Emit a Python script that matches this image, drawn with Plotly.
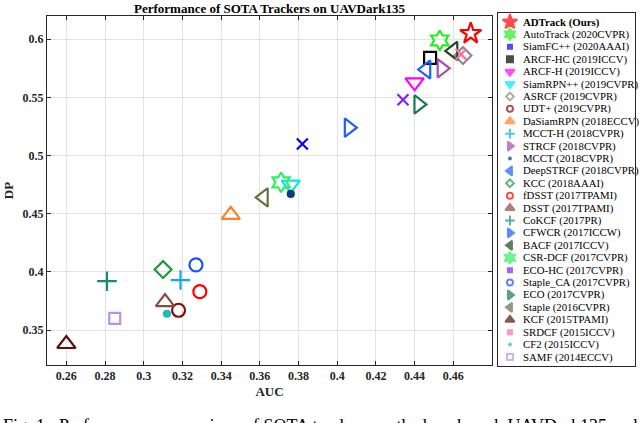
import plotly.graph_objects as go

# trackers, in legend order
trackers = ["ADTrack (Ours)", "AutoTrack (2020CVPR)", "SiamFC++ (2020AAAI)", "ARCF-HC (2019ICCV)",
            "ARCF-H (2019ICCV)", "SiamRPN++ (2019CVPR)", "ASRCF (2019CVPR)", "UDT+ (2019CVPR)",
            "DaSiamRPN (2018ECCV)", "MCCT-H (2018CVPR)", "STRCF (2018CVPR)", "MCCT (2018CVPR)",
            "DeepSTRCF (2018CVPR)", "KCC (2018AAAI)", "fDSST (2017TPAMI)", "DSST (2017TPAMI)",
            "CoKCF (2017PR)", "CFWCR (2017ICCW)", "BACF (2017ICCV)", "CSR-DCF (2017CVPR)",
            "ECO-HC (2017CVPR)", "Staple_CA (2017CVPR)", "ECO (2017CVPR)", "Staple (2016CVPR)",
            "KCF (2015TPAMI)", "SRDCF (2015ICCV)", "CF2 (2015ICCV)", "SAMF (2014ECCV)"]
auc = [0.469, 0.453, 0.382, 0.448, 0.440, 0.376, 0.465, 0.318, 0.345, 0.319, 0.454, 0.376,
       0.446, 0.310, 0.329, 0.311, 0.281, 0.406, 0.460, 0.371, 0.434, 0.327, 0.442, 0.362,
       0.260, 0.464, 0.312, 0.285]
dp = [0.605, 0.599, 0.510, 0.584, 0.563, 0.475, 0.586, 0.367, 0.449, 0.393, 0.575, 0.467,
      0.574, 0.402, 0.383, 0.374, 0.392, 0.524, 0.590, 0.477, 0.548, 0.406, 0.544, 0.464,
      0.338, 0.587, 0.364, 0.360]
xticks = [0.26, 0.28, 0.3, 0.32, 0.34, 0.36, 0.38, 0.4, 0.42, 0.44, 0.46]
yticks = [0.35, 0.4, 0.45, 0.5, 0.55, 0.6]

colors = ["#ff0000", "#22ee22", "#0000ff", "#000000", "#ff00ff", "#00e5ff", "#8c8c8c", "#8b0a0a",
          "#ff7f27", "#10a8f0", "#a050b0", "#0b3f7a", "#1e60ff", "#1f9a3a", "#ff0000", "#8b4a3e",
          "#168a72", "#1f5cff", "#1f4a1f", "#30f060", "#7a22ff", "#1e50ff", "#1a7a50", "#6b7040",
          "#5a1010", "#ff6fa0", "#22bbbb", "#c090e0"]
symbols = ["star-open", "hexagram-open", "x-thin-open", "square-open", "triangle-down-open",
           "triangle-down-open", "diamond-open", "circle-open", "triangle-up-open", "cross-thin-open",
           "triangle-right-open", "circle", "triangle-left-open", "diamond-open", "circle-open",
           "triangle-up-open", "cross-thin-open", "triangle-right-open", "triangle-left-open",
           "hexagram-open", "x-thin-open", "circle-open", "triangle-right-open", "triangle-left-open",
           "triangle-up-open", "x-thin-open", "circle", "square-open"]
sizes = [16, 15, 11, 12, 16, 16, 13, 13, 16, 14, 16, 6, 16, 13, 13, 16, 14, 16, 16, 15, 11,
         13, 16, 16, 16, 11, 6, 11]
leg_symbols = ["star", "hexagram", "square", "square-dot", "triangle-down", "triangle-down",
               "diamond-open", "circle-open", "triangle-up", "cross-thin-open", "triangle-right",
               "circle", "triangle-left", "diamond-open", "circle-open", "triangle-up",
               "cross-thin-open", "triangle-right", "triangle-left", "hexagram", "square",
               "circle-open", "triangle-right", "triangle-left", "triangle-up", "square",
               "circle", "square-open"]
leg_sizes = [11, 9, 4, 6, 8, 8, 6, 6, 8, 7, 8, 2, 8, 6, 6, 8, 7, 8, 8, 9, 4, 6, 8, 8, 8, 4, 2, 6]

font = "Liberation Serif, Times New Roman, serif"
fig = go.Figure()

for i in range(len(trackers)):
    fig.add_trace(go.Scatter(
        x=[auc[i]], y=[dp[i]], mode="markers", name=trackers[i], showlegend=False,
        marker=dict(symbol=symbols[i], size=sizes[i], color=colors[i],
                    line=dict(width=2.2, color=colors[i]))))

# legend drawn on its own small axes
n = len(trackers)
fig.add_trace(go.Scatter(
    x=[12] * n, y=list(range(n)), mode="markers", showlegend=False, xaxis="x2", yaxis="y2",
    marker=dict(symbol=leg_symbols, size=leg_sizes, color=colors,
                line=dict(width=2, color=colors))))
for i in range(n):
    txt = "<b>" + trackers[i] + "</b>" if i == 0 else trackers[i]
    fig.add_annotation(x=24, y=i, xref="x2", yref="y2", text=txt, showarrow=False,
                       xanchor="left", yanchor="middle", borderpad=0,
                       font=dict(family=font, size=10.8, color="#000000"))

fig.add_annotation(x=0.378, y=1.014, xref="paper", yref="paper", yanchor="middle",
                   text="<b>Performance of SOTA Trackers on UAVDark135</b>", showarrow=False,
                   font=dict(family=font, size=13, color="#000000"))
fig.add_annotation(x=-0.078, y=-0.135, xref="paper", yref="paper", xanchor="left", yanchor="top",
                   text="Fig. 1:  Performance comparison of SOTA trackers on the benchmark UAVDark135 and",
                   showarrow=False, font=dict(family=font, size=18, color="#000000"))

ax = dict(showline=True, linecolor="#262626", linewidth=1, mirror="ticks", ticks="inside",
          ticklen=4, tickcolor="#262626", showgrid=True, gridcolor="#e3e3e3", zeroline=False,
          automargin=False, tickfont=dict(family=font, size=12, color="#262626"))

fig.update_layout(
    width=640, height=423,
    margin=dict(l=47, r=4, t=13, b=57),
    plot_bgcolor="white", paper_bgcolor="white",
    xaxis=dict(ax, domain=[0, 0.7555], range=[0.25, 0.48], tickvals=xticks,
               ticktext=["<b>%g</b>" % v for v in xticks],
               title=dict(text="<b>AUC</b>", standoff=4,
                          font=dict(family=font, size=13, color="#262626"))),
    yaxis=dict(ax, domain=[0.003, 0.9915], range=[0.32, 0.62], tickvals=yticks,
               ticktext=["<b>%g</b>" % v for v in yticks],
               title=dict(text="<b>DP</b>", standoff=6,
                          font=dict(family=font, size=13, color="#262626"))),
    xaxis2=dict(domain=[0.7657, 0.999], range=[0, 138], showline=True, linecolor="#262626",
                mirror=True, showgrid=False, zeroline=False, showticklabels=False, ticks="",
                anchor="y2", fixedrange=True, automargin=False),
    yaxis2=dict(domain=[0, 1], range=[27.725, -0.725], showline=True, linecolor="#262626",
                mirror=True, showgrid=False, zeroline=False, showticklabels=False, ticks="",
                anchor="x2", fixedrange=True, automargin=False),
)

fig.write_html("out.html", config={"displayModeBar": False},
               post_script="document.body.style.margin='0';")
